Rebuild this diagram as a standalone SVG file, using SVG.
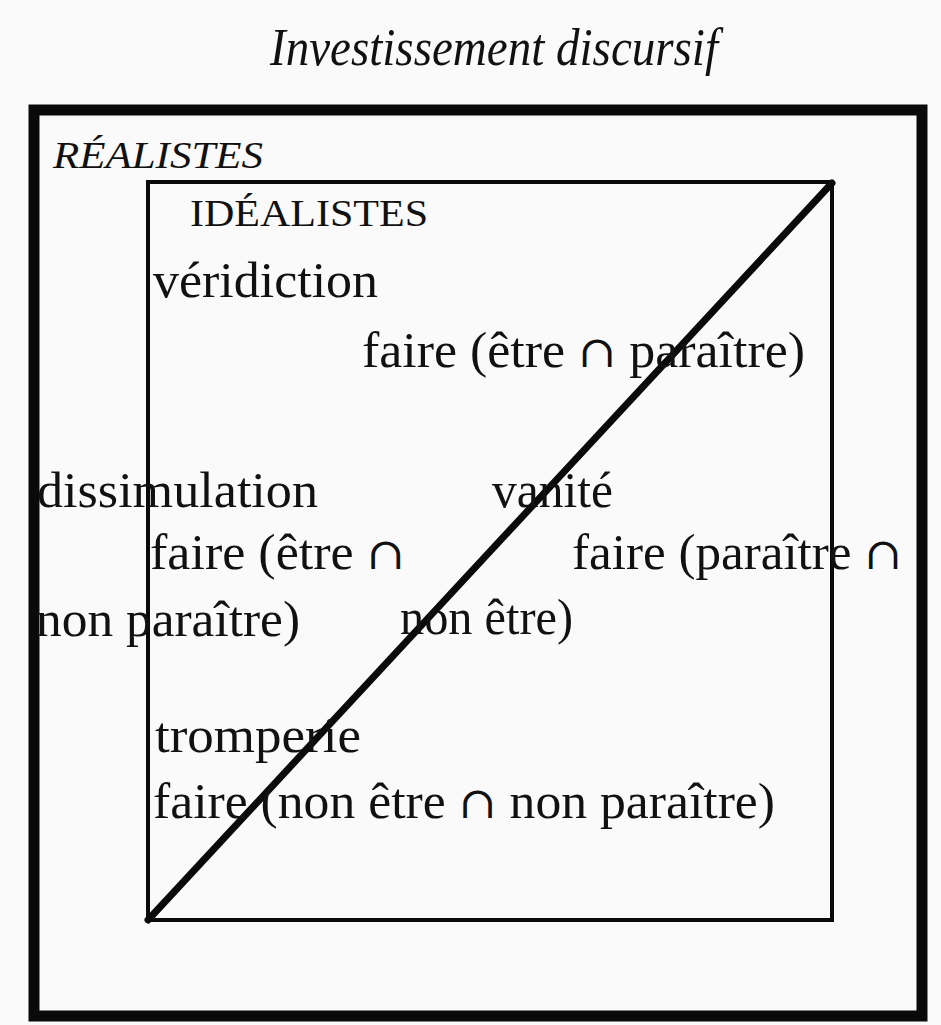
<svg xmlns="http://www.w3.org/2000/svg" width="941" height="1025" viewBox="0 0 941 1025">
  <style>
    .t { font-family: "Liberation Serif", "Times New Roman", serif; fill: #111; }
    .body { font-size: 50px; }
    .it { font-style: italic; }
    .cap { font-family: "DejaVu Serif", serif; font-size: 44px; }
    .box { fill: none; stroke: #0a0a0a; }
  </style>
  <rect x="0" y="0" width="941" height="1025" fill="#fafafa"/>
  <text class="t it" x="270" y="65" font-size="52" textLength="448" lengthAdjust="spacingAndGlyphs">Investissement discursif</text>

  <g id="realistes">
    <rect class="box" x="34" y="110" width="888" height="906" stroke-width="11"/>
    <text class="t it" x="53" y="168" font-size="38" textLength="210" lengthAdjust="spacingAndGlyphs">RÉALISTES</text>
  </g>

  <g id="idealistes">
    <rect class="box" x="148" y="182" width="684" height="738" stroke-width="4"/>
    <text class="t" x="190" y="226" font-size="38" textLength="238" lengthAdjust="spacingAndGlyphs">IDÉALISTES</text>
  </g>

  <g id="connectors">
    <line x1="148" y1="920" x2="832" y2="183" stroke="#0a0a0a" stroke-width="7" stroke-linecap="round"/>
  </g>

  <g id="veridiction">
    <text class="t body" x="153" y="297" textLength="225" lengthAdjust="spacingAndGlyphs">véridiction</text>
    <text class="t body" x="362" y="367" textLength="443" lengthAdjust="spacingAndGlyphs">faire (être <tspan class="cap">∩</tspan> paraître)</text>
  </g>

  <g id="dissimulation">
    <text class="t body" x="37" y="507" textLength="281" lengthAdjust="spacingAndGlyphs">dissimulation</text>
    <text class="t body" x="150" y="569" textLength="255" lengthAdjust="spacingAndGlyphs">faire (être <tspan class="cap">∩</tspan></text>
    <text class="t body" x="36" y="636" textLength="264" lengthAdjust="spacingAndGlyphs">non paraître)</text>
  </g>

  <g id="vanite">
    <text class="t body" x="492" y="507" textLength="121" lengthAdjust="spacingAndGlyphs">vanité</text>
    <text class="t body" x="572" y="569" textLength="330" lengthAdjust="spacingAndGlyphs">faire (paraître <tspan class="cap">∩</tspan></text>
    <text class="t body" x="400" y="634" textLength="173" lengthAdjust="spacingAndGlyphs">non être)</text>
  </g>

  <g id="tromperie">
    <text class="t body" x="155" y="752" textLength="206" lengthAdjust="spacingAndGlyphs">tromperie</text>
    <text class="t body" x="153" y="818" textLength="622" lengthAdjust="spacingAndGlyphs">faire (non être <tspan class="cap">∩</tspan> non paraître)</text>
  </g>
</svg>
